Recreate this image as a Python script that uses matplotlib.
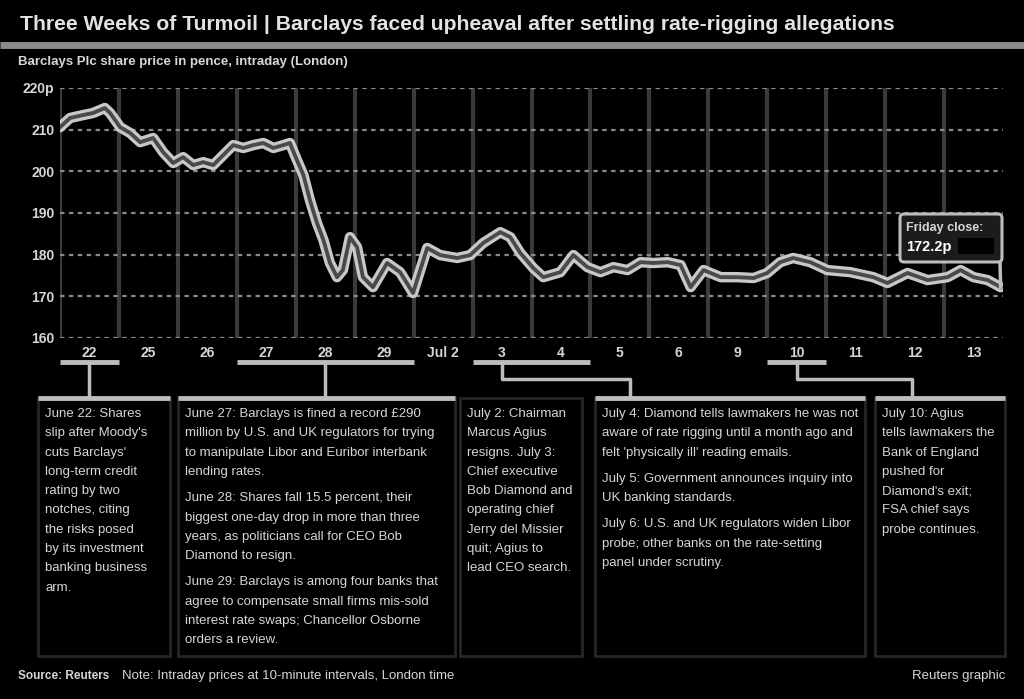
import matplotlib.pyplot as plt
from matplotlib.patches import FancyBboxPatch

plt.rcParams['font.family'] = ['Liberation Sans', 'DejaVu Sans']

# trading days shown on the x axis
day_labels = ["22", "25", "26", "27", "28", "29", "Jul 2", "3", "4", "5",
              "6", "9", "10", "11", "12", "13"]

# intraday share price (pence), position in trading days from the start
price_day = [0.0, 0.17, 0.39, 0.56, 0.76, 0.85, 1.02, 1.19, 1.36, 1.58,
             1.75, 1.92, 2.09, 2.26, 2.43, 2.60, 2.77, 2.94, 3.11, 3.28,
             3.45, 3.62, 3.79, 3.90, 4.02, 4.13, 4.24, 4.36, 4.47, 4.58,
             4.70, 4.80, 4.92, 5.04, 5.14, 5.31, 5.55, 5.77, 5.99, 6.23,
             6.45, 6.74, 6.96, 7.18, 7.47, 7.64, 7.81, 8.03, 8.20, 8.49,
             8.71, 8.95, 9.17, 9.39, 9.63, 9.85, 10.07, 10.31, 10.53, 10.70,
             10.92, 11.21, 11.49, 11.77, 12.00, 12.22, 12.44, 12.73, 13.02, 13.41,
             13.80, 14.04, 14.38, 14.72, 15.06, 15.28, 15.50, 15.74, 15.96]
price = [210.6, 212.8, 213.5, 214.0, 215.2, 214.0, 210.6, 209.2, 207.0, 208.0,
         204.6, 202.0, 203.4, 201.5, 202.2, 201.5, 203.9, 206.3, 205.6, 206.3,
         206.8, 205.6, 206.3, 206.8, 202.7, 199.1, 193.1, 187.6, 183.5, 178.0,
         174.6, 176.3, 184.2, 181.8, 174.6, 172.2, 178.0, 175.8, 170.8, 181.6,
         179.9, 179.2, 179.9, 182.8, 185.4, 184.2, 180.4, 176.8, 174.6, 175.8,
         179.9, 177.0, 175.8, 177.0, 176.3, 178.2, 178.0, 178.2, 177.5, 172.2,
         176.3, 174.6, 174.6, 174.4, 175.6, 178.2, 179.2, 178.2, 176.3, 175.8,
         174.6, 173.2, 175.6, 173.9, 174.6, 176.3, 174.6, 173.9, 172.2]

y_ticks = [160, 170, 180, 190, 200, 210, 220]
y_tick_labels = ["160", "170", "180", "190", "200", "210", "220p"]

title = "Three Weeks of Turmoil | Barclays faced upheaval after settling rate-rigging allegations"
subtitle = "Barclays Plc share price in pence, intraday (London)"
close_label = "Friday close:"
close_value = "172.2p"

# annotation columns: (first day, last day) of the bracket, text paragraphs
notes = [
    ((0, 1), [["June 22: Shares", "slip after Moody's", "cuts Barclays'", "long-term credit",
               "rating by two", "notches, citing", "the risks posed", "by its investment",
               "banking business", "arm."]]),
    ((3, 6), [["June 27: Barclays is fined a record £290",
               "million by U.S. and UK regulators for trying",
               "to manipulate Libor and Euribor interbank",
               "lending rates."],
              ["June 28: Shares fall 15.5 percent, their",
               "biggest one-day drop in more than three",
               "years, as politicians call for CEO Bob",
               "Diamond to resign."],
              ["June 29: Barclays is among four banks that",
               "agree to compensate small firms mis-sold",
               "interest rate swaps; Chancellor Osborne",
               "orders a review."]]),
    (None, [["July 2: Chairman", "Marcus Agius", "resigns. July 3:", "Chief executive",
             "Bob Diamond and", "operating chief", "Jerry del Missier", "quit; Agius to",
             "lead CEO search."]]),
    ((7, 9), [["July 4: Diamond tells lawmakers he was not",
               "aware of rate rigging until a month ago and",
               "felt 'physically ill' reading emails."],
              ["July 5: Government announces inquiry into",
               "UK banking standards."],
              ["July 6: U.S. and UK regulators widen Libor",
               "probe; other banks on the rate-setting",
               "panel under scrutiny."]]),
    ((12, 13), [["July 10: Agius", "tells lawmakers the", "Bank of England", "pushed for",
                 "Diamond's exit;", "FSA chief says", "probe continues."]]),
]
# column frames in pixels: left, right, header drawn?
cols = [(38, 170, True), (178, 455, True), (460, 582, False), (595, 865, True), (875, 1005, True)]

source = "Source: Reuters"
note = "Note: Intraday prices at 10-minute intervals, London time"
credit = "Reuters graphic"

fg = '#d6d6d6'
fig = plt.figure(figsize=(10.24, 6.99), dpi=100, facecolor='black')

# main chart area
ax_l, ax_r, ax_t, ax_b = 60, 1003, 88, 338
ax = fig.add_axes([ax_l / 1024, 1 - ax_b / 699, (ax_r - ax_l) / 1024, (ax_b - ax_t) / 699])
ax.set_facecolor('black')
ax.set_xlim(0, 16)
ax.set_ylim(160, 220)
for s in ax.spines.values():
    s.set_visible(False)
for yv in y_ticks:
    ax.axhline(yv, color='#8a8a8a', lw=1.6, ls=(0, (2, 2)), zorder=1)
for d in range(16):
    ax.axvline(d, color='#3a3a3a', lw=3, zorder=0)
ax.plot(price_day, price, color='#c8c8c8', lw=7.5, solid_joinstyle='round', solid_capstyle='round', zorder=3)
ax.plot(price_day, price, color='#4a4a4a', lw=2.8, solid_joinstyle='round', zorder=4)
ax.set_yticks(y_ticks)
ax.set_yticklabels(y_tick_labels, color=fg, fontsize=10, fontweight='bold')
ax.set_xticks([d + 0.5 for d in range(16)])
ax.set_xticklabels(day_labels, color=fg, fontsize=10, fontweight='bold')
ax.tick_params(length=0, pad=6)
ax.tick_params(axis='y', pad=4)

# overlay in pixel coordinates for titles, brackets and notes
ov = fig.add_axes([0, 0, 1, 1])
ov.set_xlim(0, 1024)
ov.set_ylim(699, 0)
ov.axis('off')

# closing price box, joined to the last point of the line
end_x = ax_l + price_day[-1] / 16 * (ax_r - ax_l)
end_y = ax_t + (220 - price[-1]) / 60 * (ax_b - ax_t)
ov.plot([1000, end_x], [262, end_y], color='#bdbdbd', lw=2.5, zorder=5)
ov.add_patch(FancyBboxPatch((900, 214), 102, 48, boxstyle='round,pad=0,rounding_size=4',
                            fc='#1c1c1c', ec='#bdbdbd', lw=2.2, zorder=6))
ov.add_patch(plt.Rectangle((958, 238), 36, 16, fc='black', ec='none', zorder=7))
ov.text(906, 228, close_label, fontsize=9, color=fg, fontweight='bold', va='center', zorder=8)
ov.text(906, 247, close_value, fontsize=10.5, color='white', fontweight='bold', va='center', zorder=8)

ov.text(20, 25, title, fontsize=15.2, fontweight='bold', color='#e2e2e2', va='center')
ov.plot([0, 1024], [45, 45], color='#8a8a8a', lw=5, solid_capstyle='butt')
ov.text(18, 62, subtitle, fontsize=9.5, fontweight='bold', color=fg, va='center')

day_w = (ax_r - ax_l) / 16


def day_px(d):
    return ax_l + d * day_w


br_y, mid_y, head_y = 362, 379, 398
line_h, para_gap = 19.3, 7
for (span, paras), (cl, cr, header) in zip(notes, cols):
    ov.add_patch(plt.Rectangle((cl, head_y), cr - cl, 258, fill=False, ec='#262626', lw=2))
    if header:
        ov.plot([cl, cr], [head_y, head_y], color='#bdbdbd', lw=3.5, solid_capstyle='butt')
    if span is not None:
        x0, x1 = day_px(span[0]), day_px(span[1])
        xc = day_px(span[0] + 0.5) if span[1] - span[0] == 2 else (x0 + x1) / 2
        ov.plot([x0, x1], [br_y, br_y], color='#bdbdbd', lw=3.5, solid_capstyle='butt')
        if xc < 480:
            ov.plot([xc, xc], [br_y, head_y], color='#bdbdbd', lw=2.5)
        else:
            tx = 630 if xc < 700 else 912
            ov.plot([xc, xc, tx, tx], [br_y, mid_y, mid_y, head_y], color='#bdbdbd', lw=2.5)
    y = 414
    for p in paras:
        for ln in p:
            ov.text(cl + 7, y, ln, fontsize=9.5, color=fg, va='center')
            y += line_h
        y += para_gap

ov.text(18, 676, source, fontsize=8.5, fontweight='bold', color=fg, va='center')
ov.text(122, 676, note, fontsize=9.5, color=fg, va='center')
ov.text(1005, 676, credit, fontsize=9.5, color=fg, va='center', ha='right')

fig.savefig('out.png', dpi=100, facecolor='black')
